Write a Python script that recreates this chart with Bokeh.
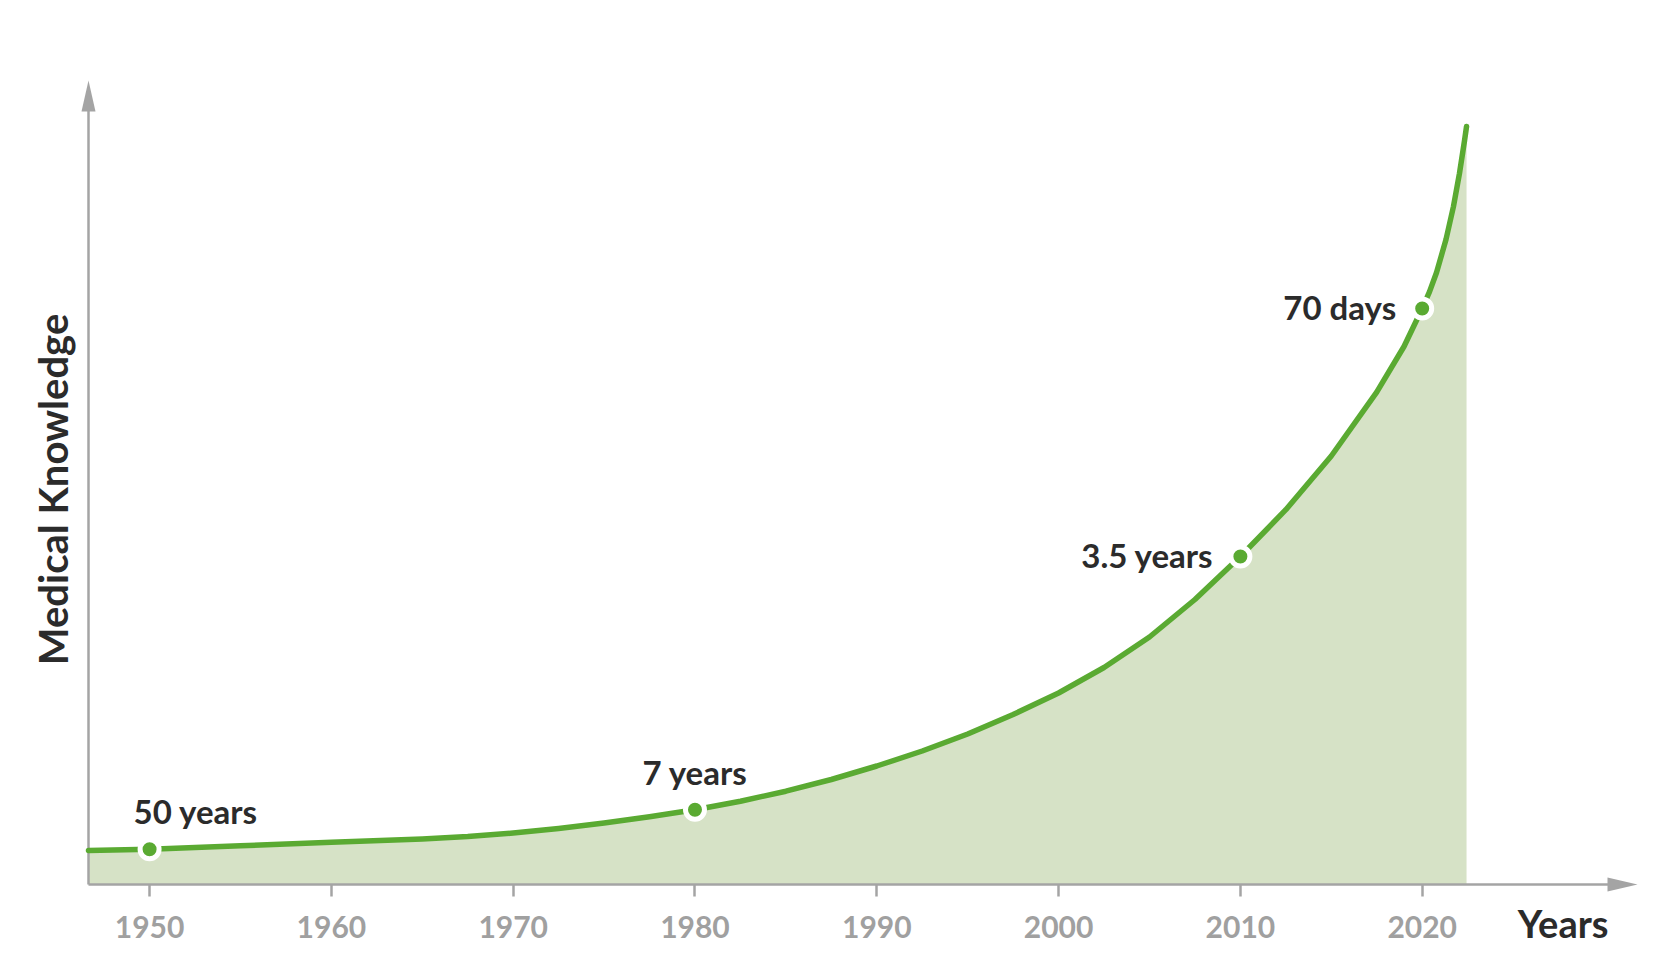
import math
from bokeh.plotting import figure
from bokeh.models import Range1d, FixedTicker
from bokeh.core.properties import value
from bokeh.embed import file_html
from bokeh.resources import INLINE

# ---- data ----
years = [1946.64, 1950.0, 1955.0, 1960.0, 1965.0, 1967.5, 1970.0, 1972.5, 1975.0,
         1977.5, 1980.0, 1982.5, 1985.0, 1987.5, 1990.0, 1992.5, 1995.0, 1997.5,
         2000.0, 2002.5, 2005.0, 2007.5, 2010.0, 2012.5, 2015.0, 2017.5, 2019.0,
         2020.0, 2020.4, 2020.79, 2021.31, 2021.72, 2022.05, 2022.33, 2022.44]
knowledge = [34, 35.2, 38.7, 42.2, 45.6, 48, 51.5, 56, 61.5,
             67.8, 74.7, 83.3, 93.3, 105, 118.5, 133.5, 150.5, 170,
             191.5, 217, 247.5, 285, 328, 374.8, 428.5, 492.3, 538,
             576, 592.6, 612, 645, 678, 711, 744, 758]

milestone_years = [1950, 1980, 2010, 2020]
milestone_values = [35.2, 74.7, 328, 576]
milestone_labels = ["50 years", "7 years", "3.5 years", "70 days"]

tick_years = [1950, 1960, 1970, 1980, 1990, 2000, 2010, 2020]
tick_labels = ["1950", "1960", "1970", "1980", "1990", "2000", "2010", "2020"]

x_title = "Years"
y_title = "Medical Knowledge"

# ---- styling / layout ----
GREEN = "#5AAA32"
FILL = "#D6E2C6"
AXIS = "#A4A4A4"
TICKTXT = "#A0A0A0"
DARK = "#2B2B2B"
FONT = "Lato"

X0 = years[0]            # where the y axis sits
PX_X = 18.18             # pixels per year
FRAME_W, FRAME_H = 1640, 940
X_START = X0 - 78 / PX_X
X_END = X_START + FRAME_W / PX_X
Y_START, Y_END = -66, 874
X_AXIS_TIP = X0 + 1549 / PX_X
Y_AXIS_TIP = 804

p = figure(frame_width=FRAME_W, frame_height=FRAME_H,
           x_range=Range1d(X_START, X_END), y_range=Range1d(Y_START, Y_END),
           output_backend="svg", toolbar_location=None,
           min_border_left=10, min_border_top=10, min_border_right=10,
           min_border_bottom=5)
p.outline_line_color = None
p.grid.visible = False
p.background_fill_color = "white"
p.border_fill_color = "white"
p.yaxis.visible = False

# x axis drawn at knowledge = 0
xa = p.xaxis[0]
xa.fixed_location = 0
xa.bounds = (X0, X_AXIS_TIP - 28 / PX_X)
xa.ticker = FixedTicker(ticks=tick_years)
xa.major_label_overrides = {y: l for y, l in zip(tick_years, tick_labels)}
xa.axis_line_color = AXIS
xa.axis_line_width = 2.5
xa.major_tick_in = 0
xa.major_tick_out = 12
xa.major_tick_line_color = AXIS
xa.major_tick_line_width = 2.5
xa.minor_tick_line_color = None
xa.major_label_text_font = FONT
xa.major_label_text_font_size = "30px"
xa.major_label_text_font_style = "bold"
xa.major_label_text_color = TICKTXT
xa.major_label_standoff = 19

# area + curve
p.varea(x=years, y1=0, y2=knowledge, fill_color=FILL, fill_alpha=1)

# y axis line and arrowheads
hw = 7 / PX_X
hl = 30 / PX_X
p.segment(x0=[X0], y0=[0], x1=[X0], y1=[Y_AXIS_TIP - 29],
          line_color=AXIS, line_width=2.5)
p.patches(xs=[[X0 - hw, X0, X0 + hw], [X_AXIS_TIP - hl, X_AXIS_TIP, X_AXIS_TIP - hl]],
          ys=[[Y_AXIS_TIP - 31, Y_AXIS_TIP, Y_AXIS_TIP - 31], [7, 0, -7]],
          fill_color=AXIS, line_color=None)

p.line(years, knowledge, line_color=GREEN, line_width=5.5,
       line_cap="round", line_join="round")

# milestone dots
p.scatter(x=milestone_years, y=milestone_values, size=19, fill_color=GREEN,
          line_color="white", line_width=5)

# milestone labels
label_style = [
    dict(text_align="left", x_offset=-16, y_offset=-38),
    dict(text_align="center", x_offset=0, y_offset=-38),
    dict(text_align="right", x_offset=-27, y_offset=-1.5),
    dict(text_align="right", x_offset=-26, y_offset=-2),
]
for yr, v, lab, st in zip(milestone_years, milestone_values, milestone_labels, label_style):
    p.text(x=[yr], y=[v], text=[lab], text_font=value(FONT), text_font_size="33px",
           text_font_style="bold", text_color=DARK, text_baseline="middle", **st)

# axis titles
p.text(x=[X0 + 1520 / PX_X], y=[-38.5], text=[x_title], text_font=value(FONT),
       text_font_size="38px", text_font_style="bold", text_color=DARK,
       text_align="right", text_baseline="middle")
p.text(x=[X0 - 36 / PX_X], y=[395], text=[y_title], angle=math.pi / 2,
       text_font=value(FONT), text_font_size="40px", text_font_style="bold",
       text_color=DARK, text_align="center", text_baseline="middle")

open("out.html", "w").write(file_html(p, INLINE))
